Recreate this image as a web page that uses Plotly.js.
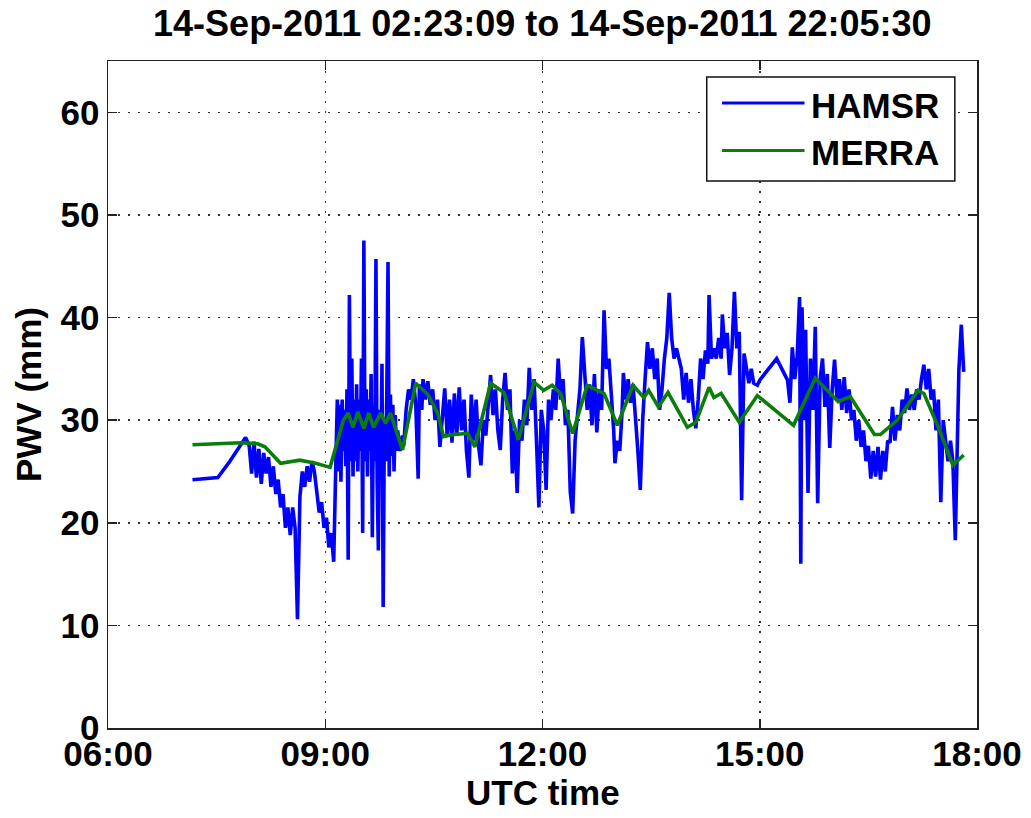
<!DOCTYPE html>
<html>
<head>
<meta charset="utf-8">
<script src="https://cdn.plot.ly/plotly-3.0.1.min.js"></script>
<style>html,body{margin:0;padding:0;background:#fff;}#chart{width:1031px;height:818px;}</style>
</head>
<body>
<div id="chart"></div>
<script>
const DAY = '2011-09-14 ';
const titleText = '14-Sep-2011 02:23:09 to 14-Sep-2011 22:05:30';
const xTitle = 'UTC time';
const yTitle = 'PWV (mm)';
const seriesNames = ['HAMSR', 'MERRA'];
const xTickLabels = ['06:00', '09:00', '12:00', '15:00', '18:00'];
const yTickValues = [0, 10, 20, 30, 40, 50, 60];

const hamsrTime = [
'07:10','07:31','07:41','07:50','07:54','07:57','07:59','08:01','08:03','08:05','08:07','08:09','08:11','08:13','08:15','08:17','08:19','08:21','08:23','08:25','08:27','08:29','08:31','08:33','08:35','08:37','08:39','08:41','08:43','08:45','08:47','08:49','08:51','08:53','08:55','08:57','08:59','09:01','09:03','09:05','09:07','09:09',
'09:10','09:11','09:12','09:13','09:14','09:15','09:16','09:17','09:18','09:19','09:20','09:21','09:22','09:23','09:24','09:25','09:26','09:27','09:28','09:29','09:30','09:31','09:32','09:33','09:34','09:35','09:36','09:37','09:38','09:39','09:40','09:41','09:42','09:43','09:44','09:45','09:46','09:47','09:48','09:49','09:50','09:51','09:52','09:53','09:54','09:55','09:56','09:57','09:58','09:59','10:00','10:02','10:04',
'10:05','10:07','10:09','10:11','10:13','10:15','10:17','10:18','10:20','10:21','10:23','10:25','10:27','10:29','10:31','10:33','10:35','10:37','10:39','10:41','10:43','10:45','10:47','10:49','10:51','10:53','10:55','10:57','10:59','11:01','11:03','11:05','11:07','11:09','11:11','11:13','11:15','11:17','11:19','11:21','11:23','11:25','11:27','11:29','11:31','11:33','11:35','11:37','11:39','11:41','11:43','11:45','11:47','11:49','11:51','11:53','11:55','11:57','11:59','12:01','12:03','12:05','12:07','12:09','12:11','12:13','12:15','12:17','12:19','12:21','12:23','12:25','12:27','12:29','12:31','12:33','12:35','12:37','12:39',
'12:41','12:43','12:45','12:47','12:49','12:51','12:53','12:55','12:57','12:59','13:00','13:02','13:04','13:06','13:07','13:09','13:11','13:13','13:15','13:17','13:19','13:21','13:23','13:25','13:27','13:29','13:31','13:33','13:35','13:37','13:39','13:41','13:43','13:45','13:47','13:49','13:51','13:53','13:55','13:57','13:59','14:01','14:03','14:05','14:07','14:09','14:11','14:13','14:15','14:17','14:18','14:20','14:22','14:24','14:26','14:28','14:29','14:31','14:33','14:35','14:37','14:39','14:41','14:43','14:45','14:47','14:49','14:51','14:53','14:55','14:58','15:00','15:14','15:23',
'15:25','15:27','15:29','15:31','15:33','15:34','15:35','15:37','15:38','15:40','15:42','15:44','15:46','15:48','15:50','15:52','15:54','15:56','15:58','16:00','16:02','16:04','16:06','16:08','16:10','16:12','16:14','16:16','16:18','16:20','16:22','16:24','16:26','16:28','16:30','16:32','16:34','16:36','16:38','16:40','16:42','16:44','16:46','16:48','16:50','16:52','16:54','16:56','16:58','17:00','17:02','17:04','17:06','17:08','17:10','17:12','17:14','17:16','17:18','17:20','17:22','17:24','17:26','17:28','17:30','17:32','17:34','17:36','17:38','17:40','17:42','17:44','17:45','17:47','17:49'
];
const hamsrPWV = [
24.2,24.4,26.0,27.5,28.3,27.5,24.8,27.9,24.4,27.2,23.8,26.8,24.8,26.4,23.5,25.5,22.8,24.2,21.5,22.8,19.5,21.5,18.8,21.5,19.5,10.6,22.5,25.0,23.5,25.5,24.0,26.0,25.0,23.0,21.0,22.0,19.5,20.5,17.6,19.0,16.2,27.0,
32.0,25.0,31.5,24.0,32.0,27.0,31.0,25.5,33.0,16.4,42.2,26.0,36.0,24.5,32.0,26.0,33.5,25.0,32.0,27.0,36.0,19.0,47.5,26.0,33.0,24.5,32.0,27.0,34.5,18.6,31.5,26.0,45.7,24.0,17.3,31.0,25.0,35.5,11.8,30.0,26.0,32.5,45.4,24.5,32.5,26.5,31.5,25.0,30.5,27.0,29.0,27.0,28.5,
27.5,31.0,33.0,32.0,34.0,31.5,24.3,33.5,31.0,34.0,32.0,33.8,31.5,33.0,30.0,32.0,27.4,30.5,33.1,28.5,32.0,27.8,32.6,28.5,33.2,29.0,32.0,27.0,24.4,32.5,28.0,32.0,27.5,25.6,30.0,28.5,32.0,34.4,30.5,33.0,29.0,27.1,32.0,34.6,31.0,33.0,24.8,29.0,22.9,30.0,28.0,32.0,29.5,35.1,31.0,34.0,28.0,21.5,31.0,29.0,23.2,32.0,30.0,33.0,31.0,36.0,32.0,34.0,29.5,31.0,23.0,20.9,28.0,31.0,33.0,38.1,34.0,31.0,33.5,
29.5,34.5,28.8,33.0,31.0,40.7,35.0,36.0,33.0,29.0,25.8,28.0,27.0,31.0,34.6,32.0,34.0,31.7,33.5,30.5,27.0,23.2,30.0,34.0,37.6,35.0,37.0,34.0,36.0,31.0,33.0,36.0,38.0,42.4,38.0,36.0,37.0,36.0,35.0,32.0,34.6,31.7,34.0,31.0,29.2,32.0,36.0,34.0,36.8,35.5,42.2,36.0,37.0,36.0,38.0,36.0,40.3,37.0,38.5,34.4,37.0,42.5,37.0,38.6,22.2,36.5,35.2,33.6,35.0,33.6,33.4,33.9,36.0,33.9,
31.7,37.1,34.0,36.2,42.0,16.0,41.0,30.0,38.8,22.9,36.0,31.0,39.1,21.9,34.0,36.0,31.3,34.5,27.3,33.0,35.9,32.0,34.0,31.0,34.2,30.7,33.0,30.0,31.0,28.0,30.0,27.4,29.0,26.0,27.5,24.3,27.0,24.5,27.4,24.2,27.0,25.0,28.0,27.8,31.3,28.0,30.5,29.0,32.0,30.7,33.1,31.0,32.5,31.0,33.0,32.0,34.0,35.4,33.0,35.0,32.0,33.0,29.0,32.0,22.0,30.0,28.0,26.0,28.0,26.0,18.3,30.0,34.9,39.3,34.7
];

const merraTime = [
'07:10','07:50','08:04','08:10','08:23','08:39','08:52','09:04','09:15','09:19','09:23','09:27','09:32','09:36','09:40','09:46','09:50','09:54','10:04','10:15','10:25','10:33','10:38','10:46','10:58','11:04','11:17','11:28','11:40','11:53','12:01','12:08','12:15','12:25','12:37','12:51','13:02','13:15','13:24','13:28','13:36','13:44','14:00','14:07','14:18','14:22','14:28','14:43','14:58','15:28','15:46','16:05','16:15','16:24','16:35','16:40','16:54','17:11','17:16','17:28','17:40','17:49'
];
const merraPWV = [
27.6,27.8,27.7,27.4,25.8,26.1,25.8,25.4,30.0,30.7,29.3,30.8,29.2,30.7,29.3,30.7,29.7,30.7,27.1,33.6,32.5,30.7,28.4,28.6,28.7,27.4,33.6,32.7,28.1,33.7,32.9,33.4,32.6,28.7,33.4,32.6,29.5,33.4,32.2,32.9,31.3,32.7,29.3,29.8,33.2,32.2,32.6,29.8,32.4,29.5,34.1,31.8,32.3,30.7,28.6,28.6,30.0,32.9,32.6,29.3,25.6,26.6
];

const seriesColors = ['#0000ff', '#0a7d0a'];
const FONT = 'Liberation Sans, Arial, Helvetica, sans-serif';

const traces = [
  {x: hamsrTime.map(t => DAY + t), y: hamsrPWV, name: seriesNames[0], type: 'scatter', mode: 'lines',
   line: {color: seriesColors[0], width: 3.6}},
  {x: merraTime.map(t => DAY + t), y: merraPWV, name: seriesNames[1], type: 'scatter', mode: 'lines',
   line: {color: seriesColors[1], width: 3.6}}
];

// custom legend placed inside the plot area (paper coordinates)
const lg = {x0: 0.689, x1: 0.9745, y0: 0.820, y1: 0.976};
const legendRows = [0.937, 0.866];
const shapes = [
  {type: 'rect', xref: 'paper', yref: 'paper', x0: lg.x0, x1: lg.x1, y0: lg.y0, y1: lg.y1,
   line: {color: '#111', width: 1.5}, fillcolor: '#fff', layer: 'above'}
];
const annotations = [
  {xref: 'paper', yref: 'paper', x: 0.5, y: -0.097, xanchor: 'center', yanchor: 'middle',
   text: '<b>' + xTitle + '</b>', showarrow: false, font: {family: FONT, size: 35, color: '#000'}}
];
seriesNames.forEach((n, i) => {
  shapes.push({type: 'line', xref: 'paper', yref: 'paper', x0: 0.7066, x1: 0.8015,
    y0: legendRows[i], y1: legendRows[i], line: {color: seriesColors[i], width: 3}, layer: 'above'});
  annotations.push({xref: 'paper', yref: 'paper', x: 0.807, y: legendRows[i] - 0.003, xanchor: 'left', yanchor: 'middle',
    text: '<b>' + n + '</b>', showarrow: false, font: {family: FONT, size: 35, color: '#000'}});
});

const axisCommon = {
  showline: true, linecolor: '#222', linewidth: 1.5, mirror: 'ticks',
  ticks: 'inside', ticklen: 9, tickwidth: 1.5, tickcolor: '#222',
  showgrid: true, gridcolor: '#333', gridwidth: 1.5, griddash: '2px,8px',
  zeroline: false,
  tickfont: {family: FONT, size: 35, color: '#000', weight: 'bold'}
};

const layout = {
  width: 1031, height: 818,
  paper_bgcolor: '#fff', plot_bgcolor: '#fff',
  margin: {l: 108, r: 54, t: 61, b: 90},
  font: {family: FONT, color: '#000', weight: 'bold'},
  showlegend: false,
  title: {text: '<b>' + titleText + '</b>', x: 0.526, xanchor: 'center', y: 0.972, yanchor: 'middle',
          font: {family: FONT, size: 36, color: '#000'}},
  xaxis: Object.assign({}, axisCommon, {
    type: 'date', range: [DAY + '06:00', DAY + '18:00'],
    tickmode: 'array', tickvals: xTickLabels.map(t => DAY + t), ticktext: xTickLabels,
    ticklabelstandoff: -6
  }),
  yaxis: Object.assign({}, axisCommon, {
    range: [0, 65], tickmode: 'array', tickvals: yTickValues, ticktext: yTickValues.map(String),
    title: {text: '<b>' + yTitle + '</b>', font: {family: FONT, size: 35, color: '#000'}, standoff: 8}
  }),
  shapes: shapes,
  annotations: annotations
};

Plotly.newPlot('chart', traces, layout, {displayModeBar: false, staticPlot: true});
</script>
</body>
</html>
